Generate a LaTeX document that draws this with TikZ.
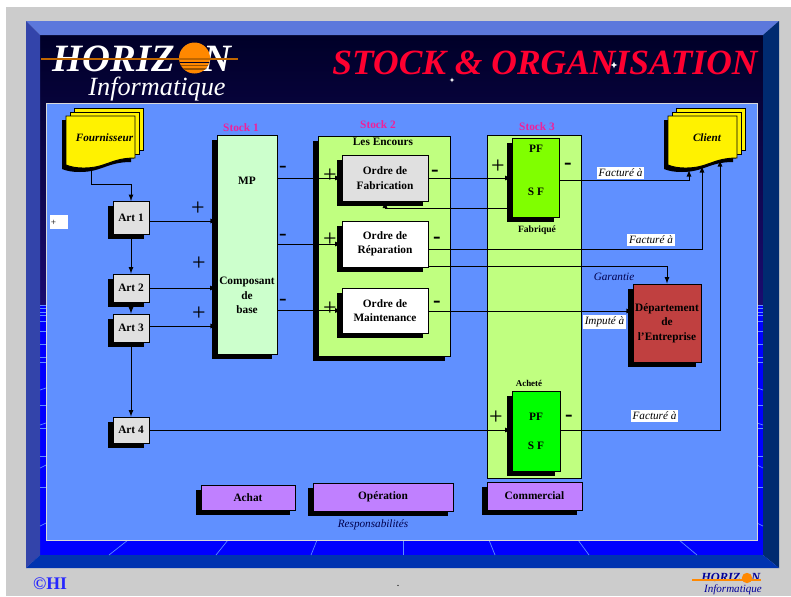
\documentclass[tikz,border=0pt]{standalone}
\usepackage{fontspec}
\setmainfont{Liberation Serif}
\usetikzlibrary{shadows,shapes.geometric}
\definecolor{gris}{HTML}{CCCCCC}
\definecolor{fond}{HTML}{6090FF}
\definecolor{rose}{HTML}{F0209A}
\definecolor{sable}{HTML}{C0FF80}
\definecolor{mauve}{HTML}{C080FF}
\definecolor{soleil}{HTML}{FF8800}
\definecolor{rougeT}{HTML}{FF0030}
\definecolor{brique}{HTML}{C04040}
\definecolor{vertvif}{HTML}{80FF00}
\definecolor{bordH}{HTML}{5C78DC}
\definecolor{bordG}{HTML}{3344AA}
\definecolor{bordD}{HTML}{002A70}
\definecolor{bordB}{HTML}{0033B0}
\definecolor{nuit}{HTML}{000028}
\definecolor{nuitB}{HTML}{1B0B70}
\tikzset{
wh/.style 2 args={minimum width=#1*0.75pt,minimum height=#2*0.75pt},
ombre/.style={drop shadow={shadow xshift=-3.5pt,shadow yshift=-3.6pt,fill=black,opacity=1}},
boite/.style={draw=black,line width=0.7pt,inner sep=0pt,align=center,font=\fontsize{8.5}{10.8}\selectfont\bfseries},
art/.style={boite,ombre,fill=black!12,wh={36}{#1}},
ordre/.style={boite,ombre,wh={86}{#1}},
resp/.style={boite,ombre,fill=mauve},
txt/.style={inner sep=0pt,align=center,font=\fontsize{8.5}{10.8}\selectfont\bfseries},
stock/.style={txt,text=rose},
ital/.style={inner sep=0pt,font=\fontsize{8.4}{10}\selectfont\itshape},
etiq/.style={ital,fill=white,inner sep=1.2pt},
plusg/.style={inner sep=0pt,font=\fontsize{18}{18}\selectfont},
moins/.style={inner sep=0pt,font=\fontsize{17}{17}\selectfont},
moinsg/.style={inner sep=0pt,font=\fontsize{17}{17}\selectfont\bfseries},
fleche/.style={line width=0.7pt,-latex},
rayon/.style={draw=fond,line width=0.5pt}
}
\newcommand{\pile}[2]{
\begin{scope}[shift={(#1,#2)}]
\fill[black] (-4,4)--(65,4)--(65,46) .. controls (41,46) and (36,56) .. (14,56) .. controls (6,56) and (1,55) .. (-4,53)--cycle;
\draw[fill=yellow,line width=0.7pt] (8,-8) rectangle ++(69,42);
\draw[fill=yellow,line width=0.7pt] (4,-4) rectangle ++(69,42);
\draw[fill=yellow,line width=0.7pt] (0,0)--(69,0)--(69,42) .. controls (45,42) and (40,52) .. (18,52) .. controls (10,52) and (5,51) .. (0,49)--cycle;
\end{scope}
}
\begin{document}
\begin{tikzpicture}[x=0.75pt,y=-0.75pt]
\useasboundingbox (0,0) rectangle (791,596);
\fill[gris] (6,7) rectangle (791,596);
%cadre
\fill[blue] (40,305) rectangle (763,555);
\fill[top color=nuit,bottom color=nuitB] (40,35) rectangle (763,305);
\fill[bordH] (26,21)--(779,21)--(763,35)--(40,35)--cycle;
\fill[bordG] (26,21)--(40,35)--(40,555)--(26,568)--cycle;
\fill[bordD] (779,21)--(763,35)--(763,555)--(779,568)--cycle;
\fill[bordB] (26,568)--(40,555)--(763,555)--(779,568)--cycle;
\foreach \y in {305,308,312,315,321,331,344,357,362,405,428,456,487}{
\draw[rayon] (40,\y)--(46,\y);
\draw[rayon] (757,\y)--(763,\y);
}
\foreach \y/\d in {388/2,423/2,465/3,523/3}{
\draw[rayon] (40,\y+\d)--(46,\y);
\draw[rayon] (757,\y)--(763,\y+\d);
}
\foreach \a/\b in {128/109,228/216,317/311,403/403,489/495,578/589,679/697}
\draw[rayon] (\a,540)--(\b,555);
\fill[fond] (46,103) rectangle (757,540);
\draw[black!15!white,line width=0.7pt] (46,103) rectangle (757,540);
%titre
\node[inner sep=0pt,text=rougeT,font=\fontsize{26.6}{27}\selectfont\bfseries\itshape] (titre) at (545,63) {STOCK \& ORGANISATION};
\node[star,star points=4,star point ratio=2.5,fill=white,inner sep=0pt,minimum size=5pt] (etoileA) at (614,65) {};
\node[star,star points=4,star point ratio=2.5,fill=white,inner sep=0pt,minimum size=3.5pt] (etoileB) at (452,80) {};
%logo
\node[inner sep=0pt,anchor=west,text=white,font=\fontsize{29}{29}\selectfont\bfseries\itshape] (horiz) at (52,59) {HORIZ};
\node[inner sep=0pt,anchor=west,text=white,font=\fontsize{29}{29}\selectfont\bfseries\itshape] (horizN) at (203,59) {N};
\fill[soleil] (194.5,58) circle (15.5);
\begin{scope}
\clip (194.5,58) circle (15.5);
\fill[nuit] (178,61.6) rectangle (211,62.6);
\fill[soleil!60!black] (178,64.5) rectangle (211,66);
\fill[soleil!60!black] (178,68) rectangle (211,70);
\end{scope}
\draw[soleil!75!black,line width=0.9pt] (41,59)--(238,59);
\node[inner sep=0pt,text=white,font=\fontsize{19.7}{20}\selectfont\itshape] (info) at (157,89.5) {Informatique};
%fournisseur et client
\pile{66}{116}
\pile{668}{116}
\node[txt,font=\fontsize{8.4}{10}\selectfont\bfseries\itshape] (Fournisseur) at (104.5,138) {Fournisseur};
\node[txt,font=\fontsize{8.4}{10}\selectfont\bfseries\itshape] (Client) at (707,138) {Client};
%articles
\node[art=33] (Art1) at (131,218) {Art 1};
\node[art=28] (Art2) at (131,288) {Art 2};
\node[art=28] (Art3) at (131,328) {Art 3};
\node[art=26] (Art4) at (131,430) {Art 4};
%stocks
\node[boite,ombre,fill=green!20!white,wh={60}{219}] (Stock1) at (247,244.5) {};
\node[boite,ombre,fill=sable,wh={132}{220}] (Stock2) at (384,246) {};
\node[boite,fill=sable,wh={94}{343}] (Stock3) at (534,306.5) {};
\node[ordre=46,fill=black!12] (Fabrication) at (385,178) {Ordre de\\Fabrication};
\node[ordre=46,fill=white] (Reparation) at (385,244) {Ordre de\\Réparation};
\node[ordre=45,fill=white] (Maintenance) at (385,310.5) {Ordre de\\Maintenance};
\node[boite,ombre,fill=vertvif,wh={47}{79}] (PFfab) at (535.5,177.5) {};
\node[boite,ombre,fill=green,wh={48}{80}] (PFach) at (536,431) {};
\node[boite,ombre,fill=brique,wh={68}{78}] (Departement) at (667,323) {Département\\de\\l'Entreprise};
\node[resp,wh={94}{25}] (Achat) at (248,497.5) {Achat};
\node[resp,wh={140}{28}] (Operation) at (383,497) {Opération};
\node[resp,wh={95}{28}] (Commercial) at (534.5,496) {Commercial};
%text
\node[txt] (MP) at (247,181) {MP};
\node[txt] (Composant) at (247,295.5) {Composant\\de\\base};
\node[txt] (PFa) at (536,149) {PF};
\node[txt] (SFa) at (536,192) {S F};
\node[txt] (PFb) at (536,417) {PF};
\node[txt] (SFb) at (536,446) {S F};
\node[stock] (nomStock1) at (241,128) {Stock 1};
\node[stock] (nomStock2) at (378,125) {Stock 2};
\node[stock] (nomStock3) at (537,127) {Stock 3};
\node[txt] (encours) at (383,142) {Les Encours};
\node[txt,font=\fontsize{7.2}{8}\selectfont\bfseries] (fabrique) at (537,230) {Fabriqué};
\node[txt,font=\fontsize{6.7}{8}\selectfont\bfseries] (achete) at (529,383) {Acheté};
\node[ital,text=blue!30!black] (responsabilites) at (373,525) {Responsabilités};
\node[ital,text=blue!30!black] (garantie) at (614,277) {Garantie};
\node[etiq] (factureA) at (620.5,173) {Facturé à};
\node[etiq] (factureB) at (651,240) {Facturé à};
\node[etiq] (factureC) at (654.5,416) {Facturé à};
\node[etiq] (impute) at (604.5,322) {Imputé à};
%connecteurs
\coordinate (fournOut) at (91,170);
\coordinate (clientA) at (689,170);
\coordinate (clientB) at (702,166);
\coordinate (clientC) at (720,160);
\coordinate (entreeA) at (217,221);
\coordinate (entreeB) at (217,326);
\coordinate (retour) at (512,208);
\coordinate (sortieA) at (559,180);
\coordinate (sortieB) at (428,249);
\coordinate (sortieC) at (428,266);
\coordinate (sortieD) at (560,430);
\coordinate (impEntree) at (633,311);
\draw[fleche] (fournOut)--(91,184)-|(Art1.north);
\draw[fleche] (Art1)--(Art2);
\draw[fleche] (Art2)--(Art3);
\draw[fleche] (Art3)--(Art4);
\draw[fleche] (entreeA-|Art1.east)--(entreeA);
\draw[fleche] (Art2.east)--(Art2.east-|Stock1.west);
\draw[fleche] (entreeB-|Art3.east)--(entreeB);
\draw[fleche] (Art4.east)--(Art4.east-|PFach.west);
\draw[fleche] (Fabrication.west-|Stock1.east)--(Fabrication.west);
\draw[fleche] (Reparation.west-|Stock1.east)--(Reparation.west);
\draw[fleche] (Maintenance.west-|Stock1.east)--(Maintenance.west);
\draw[fleche] (Fabrication.east)--(Fabrication.east-|PFfab.west);
\draw[fleche] (retour)-|(Fabrication.south);
\draw[fleche] (sortieA)-|(clientA);
\draw[fleche] (sortieB)-|(clientB);
\draw[fleche] (sortieC)-|(Departement.north);
\draw[fleche] (impEntree-|Maintenance.east)--(impEntree);
\draw[fleche] (sortieD)-|(clientC);
%plus et moins
\foreach \x/\y/\n in {198/209/a,199/264/b,199/314/c,330/176/d,330/240/e,330/309/f,498/167/g,496/418/h}
\node[plusg] (plus\n) at (\x,\y) {+};
\foreach \x/\y/\n in {283/169/a,283/237/b,283/302/c}
\node[moins] (moins\n) at (\x,\y) {-};
\foreach \x/\y/\n in {435/173/d,437/240/e,437/304/f,568/166/g,569/418/h}
\node[moinsg] (moins\n) at (\x,\y) {-};
\node[fill=white,wh={18}{14},inner sep=0pt] (repere) at (59,222) {};
\node[inner sep=0pt,anchor=west,font=\fontsize{7}{7}\selectfont] (reperePlus) at (50.5,222.5) {+};
%pied
\node[inner sep=0pt,text=blue!85!white,font=\fontsize{13.3}{14}\selectfont\bfseries] (copyright) at (50,584) {©HI};
\node[inner sep=0pt,font=\fontsize{6}{6}\selectfont\bfseries] (point) at (398,586) {.};
\node[inner sep=0pt,anchor=west,text=blue!60!black,font=\fontsize{9.3}{10}\selectfont\bfseries\itshape] (petitHoriz) at (701,577.5) {HORIZ};
\node[inner sep=0pt,anchor=west,text=blue!60!black,font=\fontsize{9.3}{10}\selectfont\bfseries\itshape] (petitN) at (751,577.5) {N};
\fill[soleil] (747,578) circle (5.2);
\draw[soleil,line width=0.8pt] (692,580)--(761,580);
\node[inner sep=0pt,text=blue!60!black,font=\fontsize{8.3}{9}\selectfont\itshape] (petitInfo) at (733,589.5) {Informatique};
\end{tikzpicture}
\end{document}
